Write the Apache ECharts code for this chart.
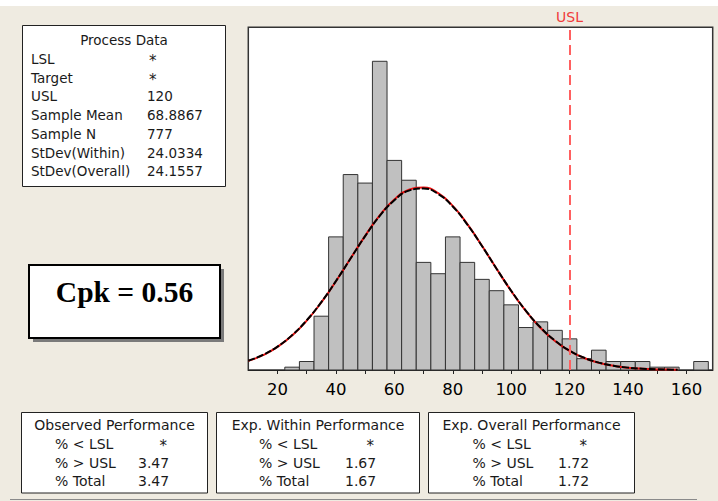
<!DOCTYPE html>
<html>
<head>
<meta charset="utf-8">
<script src="https://cdn.jsdelivr.net/npm/echarts@6/dist/echarts.min.js"></script>
<style>
html,body{margin:0;padding:0;background:#fff;}
#chart{width:718px;height:501px;}
</style>
</head>
<body>
<div id="chart"></div>
<script>
// ---- data ----
const binWidth = 5;
const binCenters = [25,30,35,40,45,50,55,60,65,70,75,80,85,90,95,100,105,110,115,120,125,130,135,140,145,150,155,160,165];
const binCounts  = [1,3,19,47,69,66,109,74,67,38,34,47,38,32,28,23,15,17,14,11,4,7,3,3,3,1,1,0,3];
const curveX     = [10,15,20,25,30,35,40,45,50,55,60,65,70,75,80,85,90,95,100,105,110,115,120,125,130,135,140,145,150,155,157];
const overallFit = [3.29,5.33,8.28,12.32,17.56,23.98,31.38,39.35,47.26,54.39,59.96,63.33,64.09,62.14,57.72,51.36,43.79,35.77,27.99,20.99,15.08,10.38,6.84,4.32,2.61,1.52,0.84,0.45,0.23,0.11,0.08];
const withinFit  = [3.21,5.22,8.15,12.18,17.42,23.87,31.32,39.35,47.36,54.58,60.23,63.65,64.42,62.43,57.95,51.51,43.85,35.74,27.90,20.86,14.93,10.23,6.72,4.22,2.54,1.47,0.81,0.43,0.22,0.11,0.08];
const usl = 120;
const xTickLabels = [20,40,60,80,100,120,140,160];

const processTitle = 'Process Data';
const processLabels = ['LSL','Target','USL','Sample Mean','Sample N','StDev(Within)','StDev(Overall)'];
const processValues = ['*','*','120','68.8867','777','24.0334','24.1557'];
const cpkText = 'Cpk = 0.56';

const perfTitles = ['Observed Performance','Exp. Within Performance','Exp. Overall Performance'];
const perfLabels = ['% < LSL','% > USL','% Total'];
const perfValues = [['*','3.47','3.47'],['*','1.67','1.67'],['*','1.72','1.72']];

// ---- layout ----
const FONT = 'DejaVu Sans';
function txt(x, y, s, opt) {
  opt = opt || {};
  return {
    type: 'text', x: x, y: y, z: 10,
    style: {
      text: s,
      font: (opt.weight || 'normal') + ' ' + (opt.size || 13.5) + 'px ' + (opt.family || ('"' + FONT + '"')),
      fill: opt.color || '#1a1a1a',
      align: opt.align || 'left', textAlign: opt.align || 'left',
      verticalAlign: 'middle', textVerticalAlign: 'middle'
    }
  };
}

const graphics = [];
graphics.push({type:'rect', z:1, shape:{x:0,y:0,width:718,height:6}, style:{fill:'#ffffff'}});
graphics.push({type:'line', z:1, shape:{x1:10,y1:499.5,x2:697,y2:499.5}, style:{stroke:'#8a8a8a', lineWidth:1}});

// Process data box
graphics.push({type:'rect', z:5, shape:{x:22.5,y:25.5,width:203,height:161}, style:{fill:'#fff', stroke:'#222', lineWidth:1}});
graphics.push(txt(124, 40, processTitle, {align:'center'}));
processLabels.forEach(function(l, i){
  const y = 59 + i*18.7;
  graphics.push(txt(31, y, l));
  const v = processValues[i];
  graphics.push(txt(v === '*' ? 149 : 147, y + (v === '*' ? 2 : 0), v, v === '*' ? {size:15} : {}));
});

// Cpk box
graphics.push({type:'rect', z:5, shape:{x:33,y:269,width:191,height:73}, style:{fill:'#7a7a7a'}});
graphics.push({type:'rect', z:6, shape:{x:29,y:265,width:191,height:73}, style:{fill:'#fff', stroke:'#000', lineWidth:2}});
graphics.push(txt(124.5, 292, cpkText, {align:'center', size:29.5, weight:'bold', family:'"Liberation Serif", serif', color:'#000'}));

// Performance boxes
const boxes = [
  {x:21.5, w:186, lx:55, vx:138},
  {x:216.5, w:203, lx:259, vx:345},
  {x:428.5, w:206, lx:472.5, vx:558}
];
boxes.forEach(function(b, k){
  graphics.push({type:'rect', z:5, shape:{x:b.x,y:412.5,width:b.w,height:80.5}, style:{fill:'#fff', stroke:'#222', lineWidth:1}});
  graphics.push(txt(b.x + b.w/2, 425, perfTitles[k], {align:'center', size:14}));
  perfLabels.forEach(function(l, i){
    const y = 444 + i*18.6;
    graphics.push(txt(b.lx, y, l, {size:14}));
    const v = perfValues[k][i];
    if (v === '*') {
      graphics.push(txt(b.vx + 29, y + 2, v, {size:15, align:'right'}));
    } else {
      graphics.push(txt(b.vx, y, v, {size:14}));
    }
  });
});

const chart = echarts.init(document.getElementById('chart'), null, {renderer:'svg', width:718, height:501});

const option = {
  animation: false,
  backgroundColor: '#efebe1',
  grid: {
    left: 248.3, right: 5.3, top: 27.3, bottom: 131,
    show: true, backgroundColor: '#ffffff', borderColor: '#333', borderWidth: 1.5
  },
  xAxis: {
    type: 'value', min: 10, max: 169, interval: 10,
    axisLine: {show: true, onZero: false, lineStyle: {color: '#222', width: 1}},
    axisTick: {show: true, length: 4, lineStyle: {color: '#222'}},
    splitLine: {show: false},
    axisLabel: {
      show: true, margin: 11, fontFamily: FONT, fontSize: 16.5, color: '#000',
      showMinLabel: false, showMaxLabel: false,
      formatter: function(v){ return xTickLabels.indexOf(v) >= 0 ? String(v) : ''; }
    }
  },
  yAxis: {
    type: 'value', min: 0, max: 121, show: false, splitLine: {show: false}
  },
  graphic: graphics,
  series: [
    {
      type: 'custom',
      data: binCenters.map(function(c, i){ return [c, binCounts[i]]; }),
      renderItem: function(params, api){
        const c = api.value(0), n = api.value(1);
        if (n <= 0) return null;
        const p0 = api.coord([c - binWidth/2, n]);
        const p1 = api.coord([c + binWidth/2, 0]);
        return {
          type: 'rect',
          shape: {x: p0[0], y: p0[1], width: p1[0] - p0[0], height: p1[1] - p0[1]},
          style: {fill: '#c0c0c0', stroke: '#333', lineWidth: 1}
        };
      },
      z: 2
    },
    {
      type: 'line', name: 'Within',
      data: curveX.map(function(x, i){ return [x, withinFit[i]]; }),
      smooth: true, showSymbol: false, symbol: 'none',
      lineStyle: {color: '#ee1111', width: 2, type: 'solid'},
      z: 3,
      markLine: {
        silent: true, symbol: ['none','none'],
        lineStyle: {color: '#ff6060', width: 2, type: [10, 5]},
        label: {show: true, position: 'end', formatter: 'USL', color: '#f03c3c', fontFamily: FONT, fontSize: 14, distance: 3},
        data: [{xAxis: usl}]
      }
    },
    {
      type: 'line', name: 'Overall',
      data: curveX.map(function(x, i){ return [x, overallFit[i]]; }),
      smooth: true, showSymbol: false, symbol: 'none',
      lineStyle: {color: '#000', width: 2, type: [7, 2]},
      z: 4
    }
  ]
};
chart.setOption(option);
</script>
</body>
</html>
